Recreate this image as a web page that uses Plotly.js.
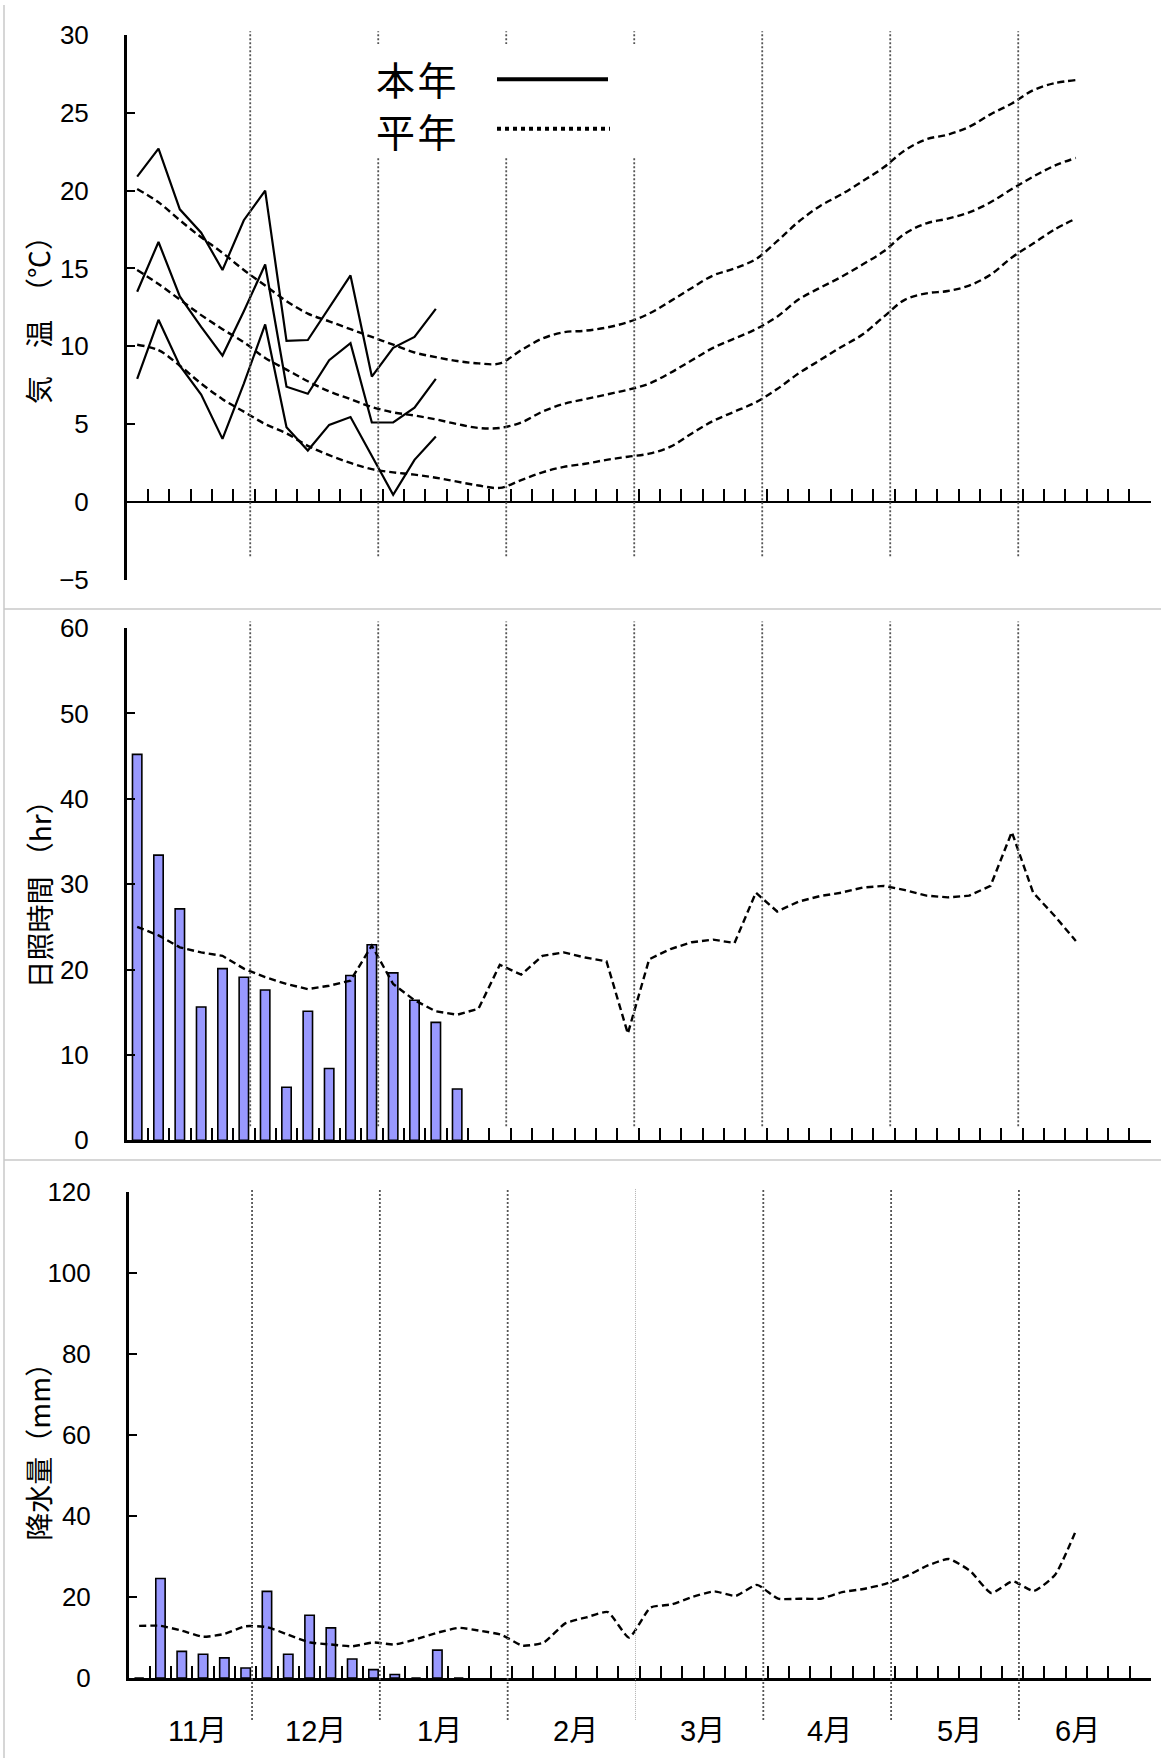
<!DOCTYPE html>
<html><head><meta charset="utf-8">
<script src="https://cdn.plot.ly/plotly-3.0.1.min.js"></script>
<style>html,body{margin:0;padding:0;background:#fff}</style>
</head><body><div id="chart" style="width:1161px;height:1758px"></div>
<script>
// ---- data (pentad index 0 = 11月第1半旬) ----
const months = ["11月","12月","1月","2月","3月","4月","5月","6月"];
const tempMaxNow  = [20.9,22.7,18.8,17.3,14.9,18.1,20.0,10.35,10.4,12.5,14.55,8.05,9.9,10.6,12.4];
const tempMeanNow = [13.5,16.7,13.2,11.25,9.4,12.25,15.25,7.4,6.95,9.1,10.2,5.1,5.1,6.05,7.9];
const tempMinNow  = [7.9,11.7,8.75,6.9,4.05,7.6,11.4,4.8,3.3,4.95,5.45,3.0,0.45,2.7,4.2];
const tempMaxNorm = [20.1,19.25,18.1,17.0,16.0,14.9,13.9,12.9,12.1,11.6,11.1,10.6,10.1,9.6,9.3,9.05,8.9,8.9,9.75,10.5,10.9,11.0,11.2,11.55,12.1,12.9,13.75,14.55,15.0,15.6,16.75,18.0,19.0,19.75,20.6,21.5,22.6,23.3,23.6,24.1,24.9,25.6,26.45,26.9,27.1];
const tempMeanNorm = [14.9,14.0,13.0,12.0,11.1,10.25,9.25,8.5,7.75,7.1,6.6,6.1,5.75,5.55,5.3,5.0,4.75,4.75,5.1,5.8,6.3,6.6,6.9,7.2,7.6,8.3,9.1,9.9,10.5,11.1,11.9,13.0,13.75,14.45,15.25,16.1,17.25,17.9,18.2,18.6,19.25,20.1,20.9,21.6,22.1];
const tempMinNorm = [10.1,9.75,8.75,7.6,6.6,5.8,5.0,4.4,3.6,3.0,2.5,2.1,1.9,1.75,1.55,1.3,1.05,0.9,1.4,1.9,2.25,2.45,2.7,2.9,3.1,3.55,4.4,5.2,5.8,6.4,7.25,8.25,9.1,9.95,10.75,11.9,13.0,13.4,13.55,13.9,14.6,15.7,16.6,17.5,18.2];
const sunNow  = [45.2,33.4,27.1,15.6,20.1,19.1,17.6,6.2,15.1,8.4,19.3,22.9,19.6,16.4,13.8,6.0];
const sunNorm = [25.0,24.0,22.6,22.0,21.6,20.1,19.1,18.3,17.7,18.1,18.7,22.8,18.3,16.4,15.1,14.7,15.4,20.55,19.4,21.6,22.0,21.4,20.96,12.5,21.2,22.4,23.2,23.5,23.1,29.0,26.8,27.95,28.6,29.0,29.6,29.8,29.3,28.65,28.45,28.65,29.8,36.1,29.0,26.3,23.35];
const rainNow  = [0,24.6,6.6,5.9,5.0,2.5,21.4,5.9,15.5,12.4,4.7,2.1,0.9,0,6.9,0];
const rainNorm = [12.9,12.9,11.7,10.2,10.9,12.8,12.6,10.7,8.8,8.3,7.85,8.8,8.3,9.6,11.2,12.4,11.7,10.7,8.0,8.8,13.5,15.0,16.3,10.0,17.4,18.2,20.1,21.4,20.3,23.0,19.6,19.6,19.6,21.2,22.0,23.2,25.1,27.75,29.4,26.5,21.0,23.9,21.5,25.5,36.7];
const nPentads = 48;

// ---- helpers ----
const W = 1161, H = 1758;
const px = v => v / W;
const py = v => 1 - v / H;
const idx = arr => arr.map((_, i) => i);
const FONT = "Liberation Sans, Arial, Noto Sans CJK JP, sans-serif";
const CJK = "Noto Sans CJK JP, sans-serif";

const boundaries = [];
for (let k = 1; k <= nPentads; k++) boundaries.push(k - 0.5);

const nowLine = {color: "#000", width: 2.2};
const normLine = {color: "#000", width: 2.4, dash: "7px,4px"};

const traces = [];
[tempMaxNorm, tempMeanNorm, tempMinNorm].forEach(a => traces.push({
  type: "scatter", mode: "lines", x: idx(a), y: a, xaxis: "x", yaxis: "y",
  line: Object.assign({shape: "spline", smoothing: 1}, normLine), hoverinfo: "skip"}));
[tempMaxNow, tempMeanNow, tempMinNow].forEach(a => traces.push({
  type: "scatter", mode: "lines", x: idx(a), y: a, xaxis: "x", yaxis: "y",
  line: nowLine, hoverinfo: "skip"}));
traces.push({type: "bar", x: idx(sunNow), y: sunNow, xaxis: "x2", yaxis: "y2", width: 0.44,
  marker: {color: "#9999ff", line: {color: "#000", width: 1.6}}, hoverinfo: "skip"});
traces.push({type: "scatter", mode: "lines", x: idx(sunNorm), y: sunNorm, xaxis: "x2", yaxis: "y2",
  line: normLine, hoverinfo: "skip"});
traces.push({type: "bar", x: idx(rainNow), y: rainNow, xaxis: "x3", yaxis: "y3", width: 0.44,
  marker: {color: "#9999ff", line: {color: "#000", width: 1.6}}, hoverinfo: "skip"});
traces.push({type: "scatter", mode: "lines", x: idx(rainNorm), y: rainNorm, xaxis: "x3", yaxis: "y3",
  line: Object.assign({shape: "spline", smoothing: 0.5}, normLine), hoverinfo: "skip"});

const xCommon = {range: [-0.5, nPentads - 0.5], tickmode: "array", tickvals: boundaries,
  ticks: "inside", ticklen: 12, tickwidth: 2, tickcolor: "#000", showticklabels: false,
  showline: true, linecolor: "#000", linewidth: 2.5, showgrid: false, zeroline: false, fixedrange: true};
const yCommon = {ticks: "inside", ticklen: 8, tickwidth: 2, tickcolor: "#000",
  showline: true, linecolor: "#000", linewidth: 2.5, showgrid: false, zeroline: false,
  tickfont: {family: FONT, size: 26, color: "#000"}, ticklabelstandoff: 30, fixedrange: true};

const xd12 = [px(126.5), px(1150.5)];
const xd3 = [px(128.5), px(1151)];
const yd1 = [py(579.7), py(35)];
const yd2 = [py(1140.2), py(628.1)];
const yd3 = [py(1678.1), py(1191.9)];

const shapes = [];
// panel frames
const frame = {type: "line", xref: "paper", yref: "paper", line: {color: "#c8c8c8", width: 1.5}, layer: "below"};
shapes.push(Object.assign({}, frame, {x0: px(4), x1: px(4), y0: py(5), y1: py(H)}));
shapes.push(Object.assign({}, frame, {x0: px(4), x1: 1, y0: py(609), y1: py(609)}));
shapes.push(Object.assign({}, frame, {x0: px(4), x1: 1, y0: py(1160), y1: py(1160)}));
// month separators
const sepSpec = [["x", "y domain", 0.043, 1.007], ["x2", "y2 domain", 0.027, 1.013], ["x3", "y3 domain", -0.086, 1.006]];
sepSpec.forEach(([xr, yr, b, t], p) => {
  for (let i = 1; i < months.length; i++) {
    const light = (p === 2 && i === 4);
    shapes.push({type: "line", xref: xr, yref: yr, x0: 6 * i - 0.7, x1: 6 * i - 0.7, y0: b, y1: t,
      layer: "above", line: light ? {color: "#b0b0b0", width: 1, dash: "1px,1px"} : {color: "#555", width: 1.8, dash: "2px,2px"}});
  }
});
// legend box
shapes.push({type: "rect", xref: "paper", yref: "paper", x0: px(368), x1: px(650), y0: py(157), y1: py(44),
  fillcolor: "#fff", line: {width: 0}, layer: "above"});
shapes.push({type: "line", xref: "paper", yref: "paper", x0: px(497), x1: px(608), y0: py(79.3), y1: py(79.3),
  line: {color: "#000", width: 4}, layer: "above"});
shapes.push({type: "line", xref: "paper", yref: "paper", x0: px(497), x1: px(610), y0: py(128.7), y1: py(128.7),
  line: {color: "#000", width: 4, dash: "4px,4px"}, layer: "above"});

const annotations = [
  {text: "本\u200a年", x: px(374), y: py(77.5), xanchor: "left", yanchor: "middle"},
  {text: "平\u200a年", x: px(374), y: py(130.5), xanchor: "left", yanchor: "middle"}
].map(a => Object.assign({xref: "paper", yref: "paper", showarrow: false, font: {family: CJK, size: 39, color: "#000"}}, a));

[["気　温　（℃）", 313], ["日照時間 （hr）", 887.5], ["降水量（mm）", 1444.7]].forEach(([t, y]) => annotations.push({
  text: t, xref: "paper", yref: "paper", x: px(38), y: py(y), textangle: -90, showarrow: false,
  xanchor: "center", yanchor: "middle", font: {family: CJK, size: 28, color: "#000"}}));

// month label placement (nudges in pentad units)
const monthNudge = [0.25, -0.2, -0.4, 0, -0.05, -0.1, 0, -0.45];
months.forEach((m, i) => annotations.push({text: m, xref: "x3", yref: "paper", x: 6 * i + 2.5 + monthNudge[i], y: py(1731),
  showarrow: false, xanchor: "center", yanchor: "middle", font: {family: FONT, size: 29, color: "#000"}}));

const layout = {
  width: W, height: H, margin: {l: 0, r: 0, t: 0, b: 0}, paper_bgcolor: "#fff", plot_bgcolor: "rgba(0,0,0,0)",
  showlegend: false, bargap: 0,
  xaxis: Object.assign({}, xCommon, {domain: xd12, anchor: "free", position: py(501.9)}),
  xaxis2: Object.assign({}, xCommon, {domain: xd12, anchor: "y2"}),
  xaxis3: Object.assign({}, xCommon, {domain: xd3, anchor: "y3"}),
  yaxis: Object.assign({}, yCommon, {domain: yd1, anchor: "x", range: [-5, 30], tickmode: "linear", tick0: 0, dtick: 5}),
  yaxis2: Object.assign({}, yCommon, {domain: yd2, anchor: "x2", range: [0, 60], tickmode: "linear", tick0: 0, dtick: 10}),
  yaxis3: Object.assign({}, yCommon, {domain: yd3, anchor: "x3", range: [0, 120], tickmode: "linear", tick0: 0, dtick: 20}),
  shapes: shapes, annotations: annotations
};

Plotly.newPlot("chart", traces, layout, {staticPlot: true, displayModeBar: false});
</script></body></html>
